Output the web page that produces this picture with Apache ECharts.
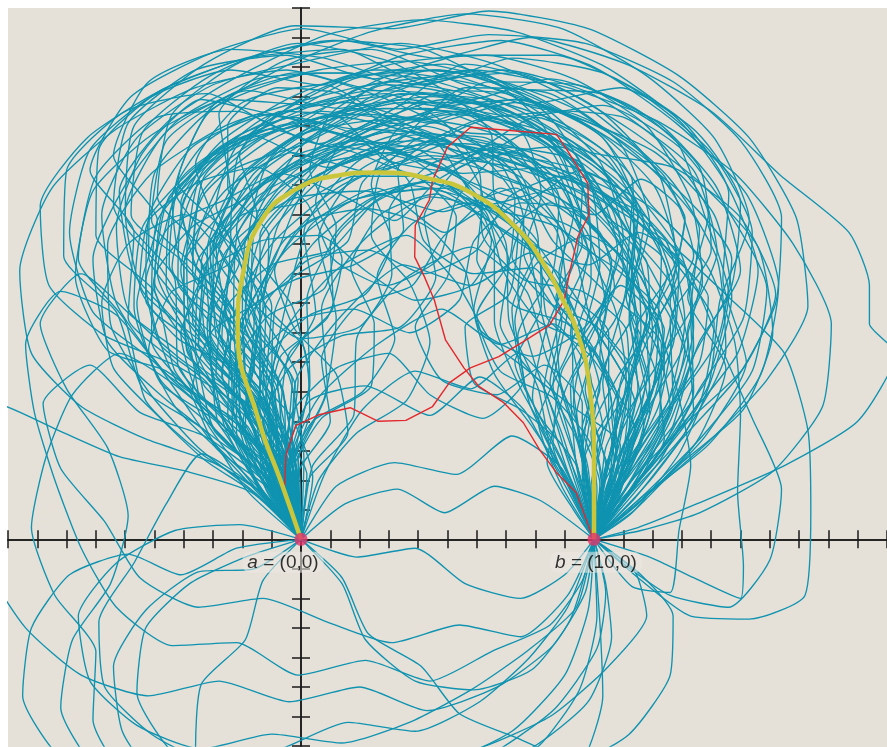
<!DOCTYPE html>
<html>
<head>
<meta charset="utf-8">
<script src="https://cdn.jsdelivr.net/npm/echarts@6/dist/echarts.min.js"></script>
<style>
  html, body { margin: 0; padding: 0; background: #fff; }
  #chart {
    width: 887px; height: 747px;
    background: linear-gradient(#e5e0d8, #e5e0d8) no-repeat 8px 8px / 879px 739px, #fff;
  }
</style>
</head>
<body>
<div id="chart"></div>
<script>
const upperPaths = [
  [0,0, -0.7,2.2, -1.5,4.6, -2.8,7, -3.2,9.8, -2.1,12.3, 0.4,14, 3.5,14.8, 6.8,14.2, 9.6,12.6, 11.4,10, 12,7, 11.5,4, 10.6,1.8, 10,0],
  [0,0, -0.4,2.5, -1.2,5.2, -3.5,7.4, -5.2,9.6, -5,12.4, -3,14.6, 0.5,15.8, 4.2,15.6, 7.5,14.5, 10.8,12.4, 13,9.6, 13.4,6.5, 12.1,3.4, 10.5,1.2, 10,0],
  [0,0, -0.2,2.8, 0.3,5.4, 0.2,8.1, 1.4,10.5, 3.6,12, 6.1,11.4, 8.2,9.8, 9.5,7.3, 9.9,4.5, 9.6,2.2, 10,0],
  [0,0, -1.1,1.9, -2.6,3.8, -4.6,5.6, -6.3,8, -6.8,11, -5.6,13.6, -3,15.4, 0.2,16.2, 3.4,16.8, 6.6,16.1, 9.8,14.6, 12.6,12.2, 14.2,9.5, 14.5,6.4, 13.1,3.6, 11.2,1.5, 10,0],
  [0,0, -0.5,2.4, -0.6,5, -1.8,7.6, -1.1,10.3, 1.2,12.6, 4.3,13.6, 7.1,12.8, 9.9,11.9, 12.4,10.2, 13.1,7.4, 12.5,4.6, 11,2.2, 10,0],
  [0,0, -0.9,2.1, -2.2,4.5, -2.6,7.3, -4.5,9.3, -4.1,12.2, -1.7,13.7, 0.9,12.6, 3.3,13.5, 5.6,15.3, 8.5,15.1, 10.9,13.4, 11.9,10.7, 11.2,7.9, 11.5,5.1, 10.4,2.5, 10,0],
  [0,0, -0.3,2.6, -1,5.3, -0.5,8, 0.3,10.6, 2.6,11.9, 4.9,10.4, 6.8,11.9, 8.7,10.5, 9.1,7.8, 8.6,5.2, 9.4,2.6, 10,0],
  [0,0, -1.4,1.7, -3.2,3.5, -4.9,5.9, -7.1,7.7, -7.9,10.4, -7.2,13.2, -5.1,15, -2.4,15.9, 0.6,15.4, 3.5,16.4, 6.8,16.9, 10,16, 12.8,14.1, 15.2,11.7, 16.3,8.6, 15.7,5.6, 13.9,3.2, 11.6,1.4, 10,0],
  [0,0, -0.6,2.3, -1.8,4.6, -1.6,7.4, -3,9.8, -1.9,12.4, 0.6,13.9, 3.6,13.1, 6.3,14.2, 9,13.4, 11.3,11.5, 11.1,8.6, 12.3,6, 11.6,3.3, 10.5,1.4, 10,0],
  [0,0, 0.1,2.7, -0.4,5.5, -1.7,8.1, -1.5,11, 0.2,13.5, 2.8,15.2, 5.8,15.9, 8.4,14.4, 9.9,12, 10.2,9.3, 9.6,6.6, 10.3,3.8, 9.9,1.8, 10,0],
  [0,0, -1.2,2, -2.2,4.4, -3.9,6.4, -4,9.3, -2.6,11.8, -0.3,13.1, 2.5,12.4, 5,13.4, 7.8,12.8, 10.4,11.7, 12.5,9.7, 14.1,7.3, 13.6,4.6, 12,2.5, 10.6,1, 10,0],
  [0,0, -0.5,2.6, -1.4,5.1, -3.4,6.7, -5.4,8.4, -6,11.1, -4.6,13.8, -1.8,15.2, 1.3,14.6, 4.2,15.5, 7.3,15.8, 10.1,14.6, 12.2,12.4, 12.8,9.5, 11.4,7, 11.9,4.3, 10.9,2, 10,0],
  [0,0, -0.8,2.3, -0.9,5.1, -2.3,7.4, -2.2,10.2, -0.6,12.5, 2,13.9, 4.9,14.9, 7.9,14.2, 10.3,12.5, 11.6,9.9, 10.7,7.4, 9.2,5.2, 9.4,2.5, 10,0],
  [0,0, -1.6,1.8, -3.3,4.1, -3.9,6.9, -5.7,9, -6.2,11.8, -4.6,14.1, -2.3,15.6, 0.9,17.1, 4.1,17.6, 7.3,17.2, 10.4,16, 12.9,14.2, 14.6,11.9, 15.6,9.1, 14.9,6.3, 13.1,4, 11.4,1.9, 10,0],
  [0,0, -0.3,2.4, 0.8,4.8, 1.2,7.5, 0.6,10.2, 2,12.5, 4.6,13.5, 7.2,12.5, 8.6,10.1, 10.6,8.1, 11.1,5.4, 10.5,2.7, 10,0],
  [0,0, -1,2.2, -2,4.6, -4.1,6.1, -5.9,7.8, -6.3,10.6, -5.4,13.1, -3.4,14.9, -0.8,14.4, 1.8,15.6, 4.9,16.1, 7.8,15.1, 10.5,13.6, 12.9,11.8, 14.7,9.5, 14.2,6.7, 12.6,4.4, 11.3,2.1, 10,0],
  [0,0, -0.4,2.5, -1.3,5, -1.2,7.8, -2.6,10.1, -3.6,12.7, -2,14.8, 0.8,15.4, 3.3,14.2, 5.7,14.9, 8.1,13.6, 10.2,11.8, 11.9,9.2, 13.1,6.5, 12.4,3.9, 11.2,1.6, 10,0],
  [0,0, -1.3,2.2, -2.8,4.4, -3.2,7.3, -2.4,10, -0.7,12.3, 1.9,13.9, 4.8,13.7, 7.6,13, 9.3,10.9, 10.5,8.4, 12.3,6.6, 12.2,3.8, 10.8,1.7, 10,0],
  [0,0, -0.6,2.5, -2.1,4.5, -4.3,5.9, -6.7,6.9, -8.6,8.6, -8.9,11.3, -7.3,13.6, -4.8,15.2, -1.9,16.3, 1.4,16.9, 4.6,16.3, 7.8,17, 11.1,16.1, 14,14.5, 16.4,12.3, 18.7,10.4, 19.4,8.6, 19.4,7.3, 20.3,6.3, 19,4, 16.5,2.5, 13.5,1.2, 11.5,0.4, 10,0],
  [0,0, -0.2,2.5, -0.7,5.2, -2.4,7.2, -2.9,10, -1.4,12.4, 1.1,14, 3.9,15.1, 6.9,14.6, 9.4,13, 10.6,10.5, 11.9,8.1, 11.3,5.4, 11.1,2.7, 10,0],
  [0,0, -0.9,1.9, -1.4,4.3, -3,6.2, -3.3,8.9, -5.1,10.8, -4.6,13.5, -2.3,15.1, 0.6,15.9, 3.5,16.2, 6.6,15.6, 9.3,14.6, 11.7,12.8, 13.6,10.5, 13.3,7.7, 13.4,5, 12,2.6, 10,0],
  [0,0, -0.4,2.6, 0.3,5.2, -0.3,7.9, -1.8,10.1, -1.1,12.8, 1.4,14.3, 4.3,13.6, 6.7,12.3, 8.9,11.5, 10.9,9.5, 11.5,6.8, 10.6,4.3, 10.9,1.7, 10,0],
  [0,0, -1.1,2.1, -2.5,4.2, -2.4,7, -3.9,9.3, -5.8,11, -5.4,13.8, -3.1,15.7, -0.1,16.8, 3,16.2, 5.8,14.9, 8.5,15.6, 11.4,14.6, 13.6,12.6, 14,9.8, 12.6,7.4, 12.7,4.6, 11.4,2.2, 10,0],
  [0,0, -0.7,2.4, -2.3,4.3, -2.1,7.1, -0.9,9.5, 0.2,12, 2.7,13.3, 5.3,12.3, 7.5,10.8, 8.1,8.1, 8.8,5.5, 9.6,2.8, 10,0],
  [0,0, -1.4,1.6, -3.4,2.9, -5.3,4.7, -6,7.4, -7.6,9.5, -7,12.3, -4.9,14.3, -2.2,14.5, 0.6,13.4, 3.2,14.6, 5.6,16.1, 8.6,15.4, 11.2,13.9, 13.6,12.1, 15.6,9.9, 16.1,7, 15.1,4.4, 13,2.6, 11.4,1, 10,0],
  [0,0, -0.1,2.7, -1.2,5.1, -1.4,7.9, -0.2,10.4, 1.9,12.2, 4.6,12.9, 7.4,12.1, 9.7,10.5, 10.4,7.8, 9.7,5.1, 10.4,2.5, 10,0],
  [0,0, -0.8,2.4, -1.9,4.9, -3.7,6.8, -3.9,9.6, -3.4,12.4, -1.2,14.3, 1.6,14.8, 4.4,14.1, 7.3,14.8, 10.1,14, 12.4,12.3, 13.4,9.6, 12.1,7.2, 12.6,4.5, 11.6,2.1, 10,0],
  [0,0, -0.5,2.3, -1.9,4.4, -1.5,7.2, -2.7,9.7, -4.3,11.8, -3.2,14.4, -0.6,16, 2.4,17.2, 5.6,17.8, 8.9,17.3, 11.8,15.7, 14.1,13.6, 15.3,10.8, 14.3,8.1, 13.9,5.2, 12.3,2.9, 10.8,1.1, 10,0],
  [0,0, -1,2.3, -1.6,4.8, -3.1,6.9, -2.6,9.7, -0.4,11.5, 2.2,11.8, 4.8,11.1, 7.3,11.9, 9.2,10.1, 9.9,7.4, 11.2,5, 10.9,2.3, 10,0],
  [0,0, -1.5,1.9, -2.9,4, -4.8,5.3, -5.6,8, -4.9,10.8, -6.4,13, -5.2,15.5, -2.4,16.6, 0.8,16.3, 3.9,15.4, 6.9,15.9, 9.9,15.1, 12.3,13.4, 13.9,11, 13.2,8.2, 14.5,5.8, 13.5,3.3, 11.5,1.2, 10,0],
  [0,0, -1.2,1.5, -3,2.6, -5.3,3.4, -7.5,4.5, -9.2,6.3, -9.6,9.1, -8.5,11.9, -6.3,13.9, -3.6,15.3, -0.5,15.9, 2.7,15.2, 5.9,15.9, 9.1,15.3, 12.1,14.2, 14.8,12.4, 16.8,10, 18.1,7.3, 17.8,4.5, 16.1,2.3, 13.6,0.9, 11.6,0.3, 10,0],
  [0,0, -0.6,2.4, -1.4,4.9, -2.9,7.1, -4.4,9.2, -3.6,11.9, -1.4,13.6, 1.3,14.8, 4.2,15.1, 7.1,14.1, 9.9,13.1, 12.7,12.6, 15,10.9, 16.2,8.3, 15.1,5.8, 13.1,3.9, 11.3,2, 10,0],
  [0,0, -0.3,2.6, -1.5,4.9, -2.9,6.9, -3,9.7, -1.3,12, 1.4,13.2, 4.1,12.3, 6.7,13.3, 9.5,12.8, 11.4,10.7, 11,8, 10.3,5.3, 10.7,2.6, 10,0],
  [0,0, -1.2,2.1, -3,3.8, -3.7,6.6, -4.9,9, -4.2,11.8, -2.1,13.7, 0.7,14.5, 3.7,14.2, 6.4,15.5, 9.4,15.4, 12.2,14.1, 14.2,11.9, 15,9.1, 13.6,6.7, 12.6,4, 11.3,1.8, 10,0],
  [0,0, -0.4,2.7, -0.1,5.4, -1.3,7.8, -0.8,10.6, 0.8,12.9, 3.5,14.3, 6.4,13.8, 8.7,12.2, 9.8,9.7, 9.2,7, 9.8,4.3, 10.3,1.8, 10,0],
  [0,0, -0.9,2, -2.6,3.8, -4.3,5.7, -5,8.4, -7,10.3, -6.9,13.2, -4.8,15.2, -1.8,16.3, 1.4,16.6, 4.3,15.4, 7.2,16.3, 10.3,15.8, 13,14.2, 14.6,11.7, 14.4,8.8, 15.2,6, 13.8,3.5, 11.8,1.5, 10,0],
  [0,0, -0.7,2.5, -1,5.2, -2.6,7.3, -2.4,10.1, -4.2,12.1, -3,14.7, -0.2,15.8, 2.7,15, 5.5,13.8, 8.4,13.6, 10.8,12, 12.3,9.6, 12.1,6.8, 11.3,4.2, 10.8,1.7, 10,0],
  [0,0, -1.1,2, -1.9,4.5, -3.5,6.6, -3.2,9.4, -1.5,11.6, 1,12.9, 3.8,13.8, 6.7,12.9, 9.3,12.1, 11.8,10.9, 12.8,8.2, 12.1,5.5, 11.4,2.8, 10,0],
  [0,0, -0.6,2.3, -2.5,4, -4.2,5.9, -4.3,8.8, -6,11, -5.7,14, -3.3,16.1, -0.2,17.4, 3.1,17.3, 6.4,17.9, 9.8,17.3, 12.9,15.7, 15.3,13.6, 16.9,10.9, 17.3,7.9, 15.9,5.4, 13.9,3.3, 11.7,1.4, 10,0],
  [0,0, -0.2,2.6, -1.4,4.9, -1.4,7.8, -2.2,10.5, -0.9,13.1, 1.8,14.6, 4.5,13.6, 6.1,11.4, 8.7,10.6, 10.6,8.9, 10.2,6.2, 11.4,3.7, 10.8,1.5, 10,0],
  [0,0, -1,2.1, -1.7,4.6, -3.4,6.5, -5.3,8.1, -5.2,10.9, -3.7,13.3, -1,14.4, 1.9,13.6, 4.6,14.6, 7.5,14.9, 10.2,13.7, 11.9,11.4, 13.7,9.2, 13,6.4, 11.6,4, 10.9,1.6, 10,0],
  [0,0, -0.3,2.6, -0.8,5.3, 0.5,7.7, 0.1,10.4, 1.8,12.7, 4.4,14.1, 7.3,14.9, 10,13.9, 12.1,11.9, 12.9,9.2, 11.8,6.7, 10.8,4.2, 10.5,1.8, 10,0],
  [0,0, -1.3,2, -2.1,4.5, -2.1,7.3, -3.7,9.5, -3.3,12.3, -1.1,14.2, 1.6,15.6, 4.7,15.9, 7.6,15.1, 10.3,13.6, 11.5,11, 11.1,8.2, 12.1,5.6, 11.2,3, 10,0],
  [0,0, -0.7,2.2, -2.3,4.1, -4.2,5.3, -5.1,7.9, -4.9,10.8, -2.9,12.9, -0.1,14, 2.7,13.3, 5.5,12.4, 8.4,12.6, 11,11.6, 12.9,9.4, 12.7,6.6, 11.5,4.1, 10.8,1.7, 10,0],
  [0,0, -0.5,2.5, -1.6,4.9, -3.3,6.9, -4.8,9.2, -6.4,11.3, -5.9,14.1, -3.6,15.9, -0.5,16.4, 2.5,15.6, 5.5,16.4, 8.7,16.4, 11.6,15.1, 14,13.1, 15.4,10.4, 15.1,7.5, 13.6,5.1, 12.2,2.6, 10,0],
  [0,0, -0.1,2.7, 0.9,5.1, 0.7,7.8, 2.1,10.1, 4.4,11.6, 7,10.9, 8.6,8.7, 10.5,7, 10.5,4.3, 10,2, 10,0],
  [0,0, -1.5,1.8, -2.3,4.3, -3.9,6.5, -4,9.3, -2.4,11.7, -2.8,14.4, -0.6,16.2, 2.4,16.6, 5.3,15.5, 8.1,14.6, 11,14.3, 13.4,12.5, 14.2,9.7, 13.2,7.1, 13.4,4.3, 12,2.1, 10,0],
  [0,0, -0.9,2.4, -1,5.1, -2.2,7.6, -3.6,9.9, -2.5,12.4, 0.1,13.4, 2.8,14.6, 5.9,14.4, 8.5,13.2, 9.7,10.8, 11.6,8.9, 12.4,6.2, 11.3,3.7, 10.2,1.6, 10,0],
  [0,0, -1.8,1.6, -3.3,3.7, -5.4,5.1, -6.3,7.7, -8.1,9.6, -8,12.5, -6,14.5, -3.2,15.1, -0.6,13.9, 2,15.3, 5.1,15.7, 8.1,14.8, 10.9,15.3, 13.5,13.8, 15,11.4, 14.7,8.6, 13.4,6.2, 12.6,3.6, 11.1,1.4, 10,0],
  [0,0, -0.4,2.5, -0.2,5.2, -1.6,7.5, -0.6,10.1, 1.8,11.5, 4.5,11.9, 6.8,10.5, 8.8,9, 10.2,6.9, 11.4,4.6, 10.7,2.2, 10,0],
  [0,0, -0.8,2.3, -2.8,3.9, -3.2,6.7, -5,8.7, -4.5,11.6, -2.2,13.4, 0.6,14.1, 3.4,13.2, 6,14.2, 8.9,14.5, 11.5,13.2, 13.1,10.8, 12.6,8, 13.4,5.4, 12.2,2.9, 10.7,1, 10,0],
  [0,0, -0.6,2.5, -1.2,5.1, -1,7.9, -2.4,10.3, -2.1,13.1, 0.1,15, 3.1,16.1, 6.3,16.4, 9.3,15.6, 11.8,14, 13.3,11.5, 13.7,8.7, 12.4,6.3, 11,4, 10.5,1.7, 10,0],
  [0,0, -1,2, -2.9,3.4, -4.8,4.9, -6.6,6.7, -7.1,9.5, -6,12, -4.2,14.2, -1.5,15.6, 1.6,15.8, 4.6,14.8, 7.5,14.3, 10.3,14.7, 12.9,13.3, 14.6,11.1, 15.9,8.5, 15.4,5.7, 13.7,3.5, 11.8,1.6, 10,0],
  [0,0, -0.2,2.7, -1.5,5, -3.1,7, -2.8,9.8, -1.3,12.1, 1.2,13.3, 3.9,12.8, 6.2,11.3, 8.8,11.9, 10.8,10.1, 11.8,7.5, 11.1,4.8, 10.6,2.3, 10,0],
  [0,0, -1.2,2.1, -1.7,4.7, -3.5,6.6, -3.2,9.5, -4.9,11.6, -4.4,14.4, -2,16.2, 1.1,16.9, 4.2,16.6, 7.1,15.3, 10.2,15.1, 12.8,13.5, 13.8,10.9, 14.6,8.3, 13.9,5.5, 12.2,3.2, 10.7,1.2, 10,0],
  [0,0, -0.5,2.6, -0.3,5.4, -1.9,7.6, -1.6,10.4, 0.3,12.5, 2.9,13.8, 5.7,13.1, 8,14.3, 10.4,13.1, 11.7,10.7, 11.2,7.9, 11.9,5.2, 11.1,2.6, 10,0],
  [0,0, -1.4,1.8, -2.6,4, -4.6,5.7, -6.6,6.4, -7.7,8.9, -7.1,11.8, -5.1,13.7, -2.5,14.9, 0.5,14.7, 3.4,15.8, 6.5,15.3, 9.4,14.3, 12.1,13.1, 14.1,11, 14.7,8.2, 14,5.4, 12.9,2.9, 11.3,0.9, 10,0],
  [0,0, -0.7,2.4, -1.8,4.7, -1.4,7.5, -2.8,9.9, -1.6,12.4, 0.8,13.9, 3.4,15.1, 6.4,14.9, 9.1,14, 11.3,12.2, 11.4,9.5, 12.7,7.2, 12.2,4.5, 10.9,2, 10,0],
  [0,0, -0.3,2.6, -1.2,5, -2.5,7.1, -4.2,8.7, -4,11.5, -2,13.6, 0.8,14.3, 3.6,14.9, 6.5,14.3, 9.2,13.5, 11.1,11.6, 12.5,9, 11.5,6.5, 10.8,3.9, 10.3,1.7, 10,0],
  [0,0, -1.1,2, -2.9,3.6, -4.2,5.9, -5.9,7.5, -5.7,10.4, -7.2,12.5, -5.8,15, -3,16.5, 0.1,17.3, 3.3,16.6, 6.4,17.1, 9.7,16.8, 12.7,15.5, 15,13.5, 16.4,10.9, 16.2,8, 14.9,5.5, 13,3.4, 11.4,1.4, 10,0]
];

const wanderPaths = [
  [0,0, -0.5,2.1, 0.4,4, 2.1,5, 3.2,6.8, 2.6,8.9, 3.8,10.7, 5.7,11.4, 7.4,10.3, 7.1,8.3, 5.6,7.2, 5.9,5.3, 7.5,4.4, 8.9,3.2, 9.6,1.6, 10,0],
  [0,0, -1,1.8, -1.3,3.9, -0.4,5.8, 1.4,6.9, 3.4,7.2, 4.6,8.9, 4.2,10.9, 5.4,12.6, 7.4,13.1, 9,11.9, 9.6,10, 8.7,8.2, 9.9,6.6, 10.8,4.8, 10.5,2.6, 10,0],
  [0,0, -0.7,2, -2,3.6, -2.7,5.7, -1.9,7.7, -0.2,8.8, 1.8,9.3, 3.5,10.5, 3.3,12.5, 4.9,13.7, 6.8,13.3, 7.8,11.6, 7.2,9.6, 8.5,8, 10.1,7.2, 11.2,5.5, 10.9,3.4, 10.4,1.6, 10,0],
  [0,0, 0.3,2.1, 1.6,3.6, 1.2,5.6, -0.2,7.1, -0.9,9.1, 0.3,10.8, 2.3,11.2, 4.3,10.6, 5.6,9.1, 6.1,7.1, 7.9,6.2, 9.6,7.1, 10.9,8.6, 12.2,7.2, 12,5.1, 11,3.2, 10.5,1.5, 10,0],
  [0,0, -0.9,1.9, -1.8,3.8, -3.3,5.2, -4,7.2, -3.2,9.1, -1.4,10.1, 0.6,10.3, 2.2,9.1, 3.9,8.1, 5.8,8.6, 6.9,10.3, 8.5,11.4, 10.2,10.4, 10.7,8.5, 9.7,6.7, 9.3,4.6, 9.8,2.4, 10,0],
  [0,0, -0.2,2.2, -1.1,4.1, -0.7,6.2, 0.9,7.5, 1.4,9.5, 0.5,11.4, 1.3,13.3, 3.2,14.1, 5.2,13.4, 6.2,11.6, 6,9.5, 7.3,7.9, 9.1,7.3, 10.3,5.7, 9.6,3.8, 10.2,1.9, 10,0],
  [0,0, -1.3,1.6, -2.3,3.5, -2.4,5.7, -3.7,7.4, -3.5,9.5, -2,11, 0,11.4, 1.8,12.3, 3.8,12.3, 5.3,10.9, 5,8.9, 3.9,7.2, 4.8,5.4, 6.7,4.9, 8.3,5.9, 9.6,4.6, 9.6,2.5, 10,0],
  [0,0, -0.6,2.1, -0.3,4.3, 1.2,5.8, 3,6.3, 4.4,4.9, 6.2,4.1, 7.6,5.4, 7.3,7.4, 8,9.3, 9.8,10.3, 11.4,9.1, 11.6,7.1, 11.1,5, 10.1,3.2, 10.3,1.4, 10,0],
  [0,0, -1.1,1.8, -1,3.9, -2.2,5.6, -1.7,7.7, -0.1,9, 1.6,10.1, 2.1,12.1, 3.8,13.2, 5.9,12.9, 7.8,13.8, 9.5,12.7, 10.4,10.9, 11.8,9.4, 11.9,7.3, 10.8,5.5, 9.9,3.6, 10.1,1.7, 10,0],
  [0,0, -0.4,2.2, -1.5,4, -1.2,6.1, 0.3,7.6, 2.2,8.3, 3.1,10.1, 2.4,12, 3.3,13.9, 5.3,14.5, 7.1,13.5, 8.3,11.9, 10,11, 11.6,12.2, 13.1,10.9, 12.7,8.9, 11.8,7.1, 11.9,5, 11.1,3.1, 10.5,1.4, 10,0],
  [0,0, -1.4,1.5, -2.8,3, -4.3,4.5, -5.2,6.4, -4.4,8.4, -2.5,9.3, -1.5,11, -2.1,13, -0.7,14.5, 1.3,14.3, 2.8,12.9, 4.8,12.5, 6.6,13.4, 8.5,12.8, 9.3,11, 8.8,9, 9.6,7.1, 10.2,5.1, 9.5,3.2, 9.9,1.5, 10,0],
  [0,0, 0.2,2.2, -0.7,4.1, -0.4,6.3, 1.1,7.9, 1,10, 2.4,11.5, 4.3,12.1, 6.1,11.2, 7.1,9.4, 6.8,7.3, 7.9,5.6, 9.4,4.4, 10.9,3.2, 10.6,1.4, 10,0],
  [0,0, -0.8,2, -2.3,3.4, -3.2,5.3, -4.8,6.6, -5.3,8.7, -4.5,10.6, -2.6,11.5, -0.7,12.4, 1.3,11.7, 3.2,10.8, 4.7,12.2, 6.5,13, 8.4,12.2, 9.1,10.3, 10.7,9.2, 12.2,7.8, 12.4,5.7, 11.6,3.8, 10.8,1.9, 10,0],
  [0,0, -0.3,2.2, 0.7,4.1, 2.4,5.2, 2.5,7.3, 1.7,9.2, 2.7,11, 4.6,11.7, 6.4,10.8, 8.1,9.6, 8.4,7.5, 9.9,6.2, 10.9,4.4, 10.4,2.4, 10,0],
  [0,0, -1.2,1.7, -1.6,3.8, -3,5.4, -3.1,7.5, -2.1,9.4, -2.9,11.3, -2.2,13.3, -0.3,14.3, 1.8,13.9, 3.7,14.8, 5.8,14.8, 7.6,13.7, 8.2,11.7, 7.6,9.7, 8.6,7.9, 9.9,6.3, 9.4,4.2, 9.7,2.1, 10,0],
  [0,0, -0.5,2.1, -1.9,3.7, -1.7,5.9, -0.2,7.4, 1.8,7.8, 3.7,7, 5.4,8.1, 5.9,10.1, 7.5,11.4, 9.5,11.1, 10.6,9.4, 10.2,7.4, 11.4,5.7, 11.7,3.6, 10.9,1.7, 10,0],
  [0,0, -1,1.9, -2.6,3.3, -3.7,5.1, -3,7.1, -1.3,8.2, -1.1,10.3, -2.5,11.9, -2.5,14, -0.8,15.3, 1.3,15.1, 3.1,14, 5.1,14.4, 7.2,14.1, 8.9,13, 9.6,11, 11,9.4, 11.5,7.3, 10.9,5.3, 10.7,3.2, 10.2,1.5, 10,0],
  [0,0, 0.4,2.1, -0.3,4.1, -1.6,5.8, -1.2,8, 0.3,9.5, 2.3,9.8, 4.2,9, 6,9.8, 7.1,11.6, 8.9,12.3, 10.6,11.2, 11,9.2, 10.1,7.3, 10.5,5.2, 10.8,3.1, 10.3,1.4, 10,0],
  [0,0, -0.9,1.9, -1.2,4, -2.7,5.5, -2.4,7.6, -3.6,9.3, -4.1,11.4, -2.9,13.1, -1,13.9, 1,13.3, 2.9,14.2, 4.9,15.2, 7,15.1, 8.8,14, 10.5,12.8, 11.5,11, 11.3,8.9, 12.4,7.1, 12,5, 11.2,3.1, 10.6,1.3, 10,0],
  [0,0, -0.1,2.2, 1,4, 0.7,6.1, 1.9,7.9, 3.8,8.6, 4.9,10.3, 6.6,11.3, 8.1,10, 8.2,7.9, 7.3,6, 8.2,4.1, 9.4,2.5, 10,0],
  [0,0, -1.5,1.5, -3.3,2.7, -4.9,4.2, -6.4,5.8, -6.8,8, -5.9,10, -4,11, -2.3,9.9, -1.6,8, 0,6.8, 2,7.2, 3.1,9, 3,11.1, 4.4,12.7, 6.5,13.2, 8.4,12.3, 10.2,11.3, 11.3,9.5, 11.2,7.4, 11.8,5.4, 11.1,3.4, 10.5,1.5, 10,0],
  [0,0, -0.7,2, -0.9,4.2, -2.3,5.8, -4.2,6.8, -5.5,8.6, -5.2,10.8, -3.5,12.1, -1.5,12.6, 0.2,11.4, 1.1,9.5, 2.9,8.6, 4.7,9.5, 5.3,11.5, 6.7,13, 8.8,13.3, 10.5,12.2, 11.3,10.3, 12.6,8.7, 13.2,6.6, 12.5,4.6, 11.3,2.9, 10.4,1.2, 10,0],
  [0,0, -0.3,2.2, -1.4,4.1, -1.4,6.3, -2.9,7.9, -3.1,10, -1.8,11.7, 0.1,12.7, 2.1,13.4, 3.7,12.1, 4.2,10.1, 5.9,9, 7.9,9.2, 8.9,7.4, 8.5,5.3, 9.4,3.4, 9.8,1.6, 10,0],
  [0,0, -1.1,1.7, -2.2,3.6, -2.2,5.8, -1.1,7.6, 0.8,8.5, 1.2,10.6, 0.3,12.5, 1,14.4, 2.9,15.4, 5,15.1, 6.5,13.7, 6.6,11.6, 7.9,10, 9.8,9.3, 11.5,10.4, 13.1,9.3, 13.4,7.2, 12.9,5.1, 11.8,3.2, 10.7,1.4, 10,0],
  [0,0, -0.6,2.1, -1.9,3.7, -3.5,4.9, -4.1,7, -3.3,9, -4.1,11, -3.2,12.9, -1.4,13.9, 0.7,14.8, 2.9,15.1, 4.9,14.1, 6.1,12.4, 6.2,10.3, 7.6,8.8, 9.6,8.4, 11.1,7.1, 11.2,5, 10.4,3.1, 10.2,1.4, 10,0],
  [0,0, 0.6,2, 1.9,3.6, 3.6,4.7, 4.4,6.7, 3.7,8.7, 2.4,10.3, 2.7,12.4, 4.3,13.7, 6.3,13.6, 8,12.4, 9.7,11.4, 11.1,9.9, 11.4,7.8, 10.4,6, 10,4, 10.6,2, 10,0],
  [0,0, -1.2,1.8, -2.9,3.1, -3.8,5, -5.1,6.7, -5,8.9, -3.7,10.6, -1.8,11.6, -0.2,13, 1.9,13.5, 4,13.2, 5.8,12.1, 7.7,11.5, 9.5,12.5, 11.3,11.6, 12.5,9.8, 13.9,8.2, 13.6,6, 12.4,4.3, 11.3,2.6, 10.5,1.1, 10,0],
  [0,0, -0.4,2.2, 0.3,4.3, 0.1,6.5, -1.3,8.1, -1.4,10.3, 0,11.9, 1.8,13, 3.9,13.7, 6,13.1, 7.3,11.5, 7.1,9.4, 6,7.6, 6.8,5.7, 8.6,4.8, 9.9,3.2, 10,1.5, 10,0],
  [0,0, -1,1.9, -2,3.8, -1.6,6, -2.6,7.9, -4.1,9.4, -4.4,11.6, -3.3,13.4, -1.4,14.4, 0.7,14.1, 2.4,15.3, 4.5,15.9, 6.6,15.5, 8.2,14.1, 9.2,12.3, 10.6,10.8, 12.3,9.6, 12.8,7.5, 12.2,5.5, 12.4,3.4, 11.3,1.7, 10,0],
  [0,0, -0.2,2.2, -1.3,4.1, -2.9,5.6, -2.6,7.8, -1,9.3, 1,9.8, 2.5,11.4, 4.5,12.2, 6.3,11.1, 6.9,9.1, 8.1,7.4, 9.9,6.5, 10.6,4.6, 9.7,2.8, 10,0]
];

// loops that come back down into b from its upper left
const innerPaths = [
  [0,0, -0.8,2.1, -1.9,4.3, -2.7,6.8, -2.3,9.4, -0.8,11.7, 1.5,13.4, 4.2,14, 6.6,13, 7.6,10.8, 7.4,8.3, 8,5.9, 8.9,3.6, 9.5,1.7, 10,0],
  [0,0, -0.4,2.4, -1.6,4.6, -3.1,6.6, -4.1,9.1, -3.3,11.7, -1.1,13.5, 1.6,14.6, 4.5,15, 7.3,14.4, 9.4,12.6, 9.9,10, 8.9,7.6, 8.3,5.1, 9,2.6, 10,0],
  [0,0, -1.2,1.9, -2.9,3.7, -4.8,5.4, -5.7,7.9, -5.4,10.6, -3.5,12.7, -0.8,14, 2.1,14.4, 5,14, 7.2,12.5, 8.1,10.1, 7.2,7.8, 7.6,5.3, 8.7,3.1, 9.5,1.4, 10,0],
  [0,0, -0.6,2.5, -0.8,5.1, -2,7.5, -1.9,10.1, -0.3,12.4, 2.2,13.9, 5,14.5, 7.8,13.7, 10,12.2, 10.8,9.8, 10.1,7.3, 9,5, 8.4,2.6, 9.3,1, 10,0],
  [0,0, -1.4,1.7, -2.6,3.8, -3.2,6.4, -4.6,8.6, -4.4,11.3, -2.7,13.5, -0.3,15, 2.5,15.9, 5.5,15.8, 8.2,14.7, 10.2,12.8, 11,10.2, 10.2,7.8, 8.9,5.7, 8.6,3.2, 9.4,1.3, 10,0],
  [0,0, -0.3,2.5, -1,5, -0.9,7.7, 0.4,10, 2.5,11.6, 5,11.9, 6.6,9.9, 6.6,7.4, 7.5,5.1, 8.7,3, 9.5,1.3, 10,0],
  [0,0, -0.9,2.2, -2.3,4.2, -3.6,6.5, -3.4,9.1, -1.7,11.2, 0.6,12.7, 3.2,13.1, 5.6,12.1, 7,10, 7.1,7.4, 8.1,5.1, 8.6,2.7, 9.6,1.1, 10,0],
  [0,0, -1.6,1.6, -3.5,3.1, -5.2,5, -6.5,7.3, -6.6,10, -5.1,12.4, -2.6,14, 0.2,14.9, 3.1,15.5, 6,15, 8.5,13.7, 9.8,11.4, 9.9,8.8, 9.1,6.3, 8.1,4, 8.9,1.8, 10,0],
  [0,0, -0.5,2.4, -1.8,4.4, -2,7.1, -3.1,9.5, -2.2,12, 0,13.7, 2.7,14.2, 5.2,13.2, 7.6,12.2, 9,10.1, 8.7,7.6, 8.9,5, 9.7,2.6, 10,0],
  [0,0, -1.1,2, -1.9,4.4, -3.6,6.3, -5,8.5, -4.7,11.2, -2.9,13.2, -0.4,14.5, 2.4,15.2, 5.4,15, 8,13.9, 9.6,12, 9.4,9.6, 8.4,7.2, 7.9,4.8, 8.7,2.7, 9.4,1.2, 10,0],
  [0,0, -0.2,2.6, -0.7,5.2, -1.9,7.5, -1.4,10.2, 0.5,12.3, 3,13.1, 5.4,12.3, 6.5,10.1, 5.9,7.8, 6.6,5.6, 7.9,3.8, 9.1,2, 10,0],
  [0,0, -1.3,1.9, -2.1,4.2, -2.1,6.9, -3.7,9, -3.4,11.7, -1.3,13.6, 1.4,14.5, 4.3,14.6, 7,13.6, 8.8,11.6, 8.6,9.1, 7.4,6.9, 7.8,4.6, 8.8,2.5, 10,0]
];

const lowPaths = [
  [0,0, 0.8,2.2, 2.1,4.4, 3.9,5.7, 5.8,5.1, 7.4,6.3, 8.7,4.9, 9.4,2.6, 10,0],
  [0,0, -0.4,2.5, 0.6,4.8, 2.6,6.6, 4.8,7.8, 6.8,6.6, 8.6,7.3, 9.9,5.4, 9.6,2.8, 10,0],
  [0,0, 1.2,1.8, 3.2,2.6, 5.3,2.2, 7.2,3.5, 8.9,2.4, 10,0],
  [0,0, -0.3,2.6, -0.2,5.3, 1.4,7.6, 3.5,9.3, 5.8,8.6, 7.8,9.7, 9.2,7.8, 9.3,5, 9.7,2.4, 10,0],
  [0,0, -0.6,2.4, 0.3,4.7, 2.2,5.2, 4.4,4.2, 6.1,5.5, 7.6,4.4, 8.7,2.4, 10,0],
  [0,0, 0.4,2.5, 1.8,4.2, 1.9,6.8, 3.5,8.8, 5.8,9.9, 7.7,8.4, 8.4,6.1, 9.4,4, 9.8,2, 10,0],
  [0,0, -0.8,2.2, -1.2,4.8, -0.4,7.3, 1.3,9.2, 3.6,10.3, 5.3,8.7, 6.5,6.7, 8.2,5.3, 9,3, 10,0],
  [0,0, 1.5,1.2, 3.3,1.7, 4.9,0.9, 6.6,1.8, 8.2,1.3, 10,0]
];

const belowPaths = [
  [0,0, -1.9,-0.6, -3.8,-1.5, -5.3,-3, -5.6,-5.2, -4.4,-7.2, -2.3,-8.5, 0.5,-9, 3.4,-8.3, 6.1,-7.5, 8.6,-5.8, 10.1,-3.7, 10.4,-1.8, 10,0],
  [0,0, -2.1,0.5, -4.3,0.3, -6.3,-0.8, -7.6,-2.6, -7.2,-4.8, -5.6,-6.3, -3.4,-7.1, -1,-6.6, 1.4,-6.9, 3.7,-6.2, 5.8,-5.1, 7.7,-3.8, 9.4,-2.3, 10,0],
  [0,0, -1.3,-1.4, -1.9,-3.4, -3.4,-4.9, -3.6,-7.2, -2.8,-9, -0.5,-9.8, 2.3,-9.4, 5,-8.6, 7.6,-8.9, 9.6,-7.5, 10.3,-5.3, 10.2,-2.8, 10,0],
  [0,0, -2.2,-0.3, -4.1,-1.2, -5.9,-0.5, -7.9,-1.2, -9.2,-3, -9.5,-5.3, -8.3,-7.3, -6,-8.6, -3,-8.8, 0,-8.2, 3,-7.7, 6,-7.1, 8.5,-6, 10.4,-4.4, 11.8,-2.6, 11.4,-1.1, 10,0],
  [0,0, 1.9,-0.6, 3.9,-0.3, 5.6,-1.5, 7.5,-2, 9,-1.2, 10,0],
  [0,0, 1.4,-1.5, 2.2,-3.4, 3.9,-4.8, 5.9,-5.1, 7.9,-4.4, 9.2,-2.7, 10,0],
  [0,0, -1.6,-1, -3.5,-1.1, -5.3,-2.4, -6.4,-4.3, -6.1,-6.5, -5,-8, -2.5,-8.9, 0.3,-8.6, 2.8,-7.3, 5.2,-7.8, 7.8,-7.1, 9.8,-5.5, 10.6,-3.3, 10.4,-1.5, 10,0],
  [0,0, 1.4,-1.3, 2.3,-3.2, 4.1,-4.3, 5.4,-5.9, 7.3,-6.7, 9.4,-7.5, 11.2,-6.6, 12.6,-4.6, 12.7,-2.6, 11.6,-1.2, 10,0]
];

const leftPaths = [
  [0,0, -0.8,2.3, -2.5,4.2, -4.6,5.6, -6.3,7.6, -8.2,8.4, -9.4,6.6, -9.1,4.3, -8.4,2, -7.5,-0.3, -6.3,-2.3, -4.4,-3.6, -2.2,-3.5, -0.1,-4.6, 2.2,-4.1, 4.4,-4.8, 6.5,-3.8, 8.5,-2.9, 9.6,-1.4, 10,0],
  [0,0, -1.3,2, -3.3,3.5, -5.5,4.3, -7.2,5.9, -8.8,4.6, -8.2,2.4, -6.7,0.6, -5.5,-1.3, -3.5,-2.3, -1.3,-2, 0.9,-2.8, 3.1,-3.5, 5.4,-2.9, 7.5,-3.3, 9.1,-1.9, 10,0],
  [0,0, -0.5,2.5, -1.9,4.6, -3.8,6.1, -5.7,7.5, -7.5,9, -8.9,7.3, -8,5.1, -6.6,3.1, -5.9,0.8, -6.5,-1.5, -7.8,-3.4, -8.2,-5.7, -7.1,-7.6, -4.5,-8.8, -1.5,-8.5, 1.5,-7.4, 4.5,-7.6, 7.2,-6.5, 9,-4.6, 9.8,-2.4, 10,0],
  [0,0, -1.7,1.6, -3.9,2.3, -6.2,2.8, -8.3,3.7, -10.4,4.6, -11.5,2, -10.8,-0.8, -9.4,-3, -7.5,-4.6, -5.2,-5.3, -2.8,-4.8, -0.4,-5.5, 2,-5, 4.3,-5.8, 6.7,-5, 8.6,-3.6, 9.7,-1.8, 10,0],
  [0,0, -1.5,1.7, -3.4,2.9, -4.6,1.2, -5.7,-0.8, -6.9,-2.8, -6.7,-5, -5.1,-6.6, -3.1,-7.5, -0.7,-7.1, 1.6,-6.2, 3.9,-6.5, 6.1,-5.5, 7.8,-4, 9.1,-2.3, 10,0],
  [0,0, -0.9,2.2, -2.6,3.8, -4.4,5.3, -6.2,6.3, -7.8,4.9, -8.7,2.8, -9.2,0.4, -8.4,-1.9, -7,-3.8, -7.1,-6.1, -6,-8, -3.5,-9.1, -0.5,-9.2, 2.5,-8.4, 5.4,-8.1, 8,-7.1, 9.5,-5.1, 10.1,-2.6, 10,0]
];

const rightLoopPaths = [
  [0,0, -0.8,2.2, -2,4.5, -2.3,7.4, -1,10, 1.4,12, 4.3,13, 7.2,12.6, 10,11.6, 12.6,10, 14.6,8.2, 16.5,6.3, 17.3,3.7, 17.4,1, 17.2,-1.9, 15.3,-2.7, 13.3,-2.6, 11.5,-1.3, 10,0],
  [0,0, -0.4,2.5, -1.5,4.8, -3.2,6.6, -3.4,9.4, -1.7,11.8, 1,13.2, 3.9,13.5, 6.8,13.1, 9.6,12.5, 12,11.2, 13.9,9.2, 14.8,6.7, 15,4.2, 14.9,1.6, 15.1,-0.9, 15,-2, 13.4,-1.3, 11.9,-0.6, 10,0],
  [0,0, -1,2, -1.8,4.4, -2,7.2, -0.6,9.7, 1.6,11.4, 4.2,12.1, 6.9,11.4, 9.2,10.6, 11.1,9, 12.3,6.9, 12.9,4.8, 13.3,2.5, 12.9,0.3, 12.6,-1.8, 11.3,-1.6, 10,0],
  [0,0, -0.6,2.4, -1.3,4.9, -2.8,7, -2.2,9.8, -0.2,11.9, 2.6,13.2, 5.6,13.4, 8.5,12.7, 11.1,11.1, 13.2,9.1, 14.3,6.6, 15.4,4.1, 16.4,1.7, 16,-0.7, 14.6,-2.3, 12.6,-1.9, 11.1,-0.9, 10,0]
];

const smoothPath = [0,0, -0.7,2.0, -1.45,4.05, -2.16,7.1, -1.96,9.1, -1.35,10.8, -0.24,11.82, 1.28,12.33, 2.64,12.43, 4.32,12.23, 5.84,11.72, 7.36,10.54, 8.31,9.29, 8.94,8.11, 9.4,7.1, 9.83,5.3, 10,2.47, 10,0];

const redPath = [0,0, -0.57,1.69, -0.51,2.87, -0.18,3.85, 0.61,4.22, 1.68,4.46, 2.64,4.0, 3.58,4.03, 4.49,4.5, 5.06,5.3, 5.78,5.81, 6.75,6.19, 7.59,6.7, 8.48,7.26, 8.99,8.11, 9.16,9.02, 9.45,10.25, 9.82,10.98, 9.79,12.06, 9.16,13.07, 8.72,13.72, 5.79,13.96, 5.0,13.29, 4.49,12.16, 4.38,11.49, 3.9,10.64, 3.88,9.57, 4.21,8.9, 4.55,8.11, 4.93,6.76, 5.56,5.81, 6.07,5.18, 6.92,4.63, 7.59,3.95, 8.14,3.04, 8.72,2.26, 9.39,1.59, 9.96,0.07, 10,0];

const endPoints = [[0, 0], [10, 0]];
const endNames = ['a', 'b'];
const endCoords = ['(0,0)', '(10,0)'];

function pairs(flat) {
  const out = [];
  for (let i = 0; i < flat.length; i += 2) out.push([flat[i], flat[i + 1]]);
  return out;
}

const blue = '#0f93b0';
const series = [];
[upperPaths, wanderPaths, innerPaths, lowPaths, belowPaths, leftPaths, rightLoopPaths].forEach(group => {
  group.forEach(p => {
    series.push({
      type: 'line', data: pairs(p), showSymbol: false, smooth: 0.2,
      lineStyle: { color: blue, width: 1.35 }, silent: true, z: 2
    });
  });
});

series.push({
  type: 'line', data: pairs(redPath), showSymbol: false,
  lineStyle: { color: '#e3282c', width: 1.4 }, silent: true, z: 4
});
series.push({
  type: 'line', data: pairs(smoothPath), showSymbol: false, smooth: 0.5,
  lineStyle: { color: '#c9c63b', width: 4.5 }, silent: true, z: 5
});
series.push({
  type: 'scatter', data: endPoints, symbolSize: 13, z: 6,
  itemStyle: { color: '#e2336a' },
  label: {
    show: true, position: 'bottom', distance: 6,
    formatter: p => '{i|' + endNames[p.dataIndex] + '}{n| = ' + endCoords[p.dataIndex] + '}',
    backgroundColor: 'rgba(236,233,227,0.72)', padding: [1, 5], borderRadius: 8,
    rich: {
      i: { fontStyle: 'italic', fontSize: 19, fontFamily: 'Liberation Sans', color: '#000' },
      n: { fontSize: 19, fontFamily: 'Liberation Sans', color: '#000' }
    }
  },
  labelLayout: p => ({ dx: p.dataIndex === 0 ? -18 : 2 })
});

function axisPair(min, max, pos) {
  return [false, true].map(inside => ({
    type: 'value', min: min, max: max, interval: 1, position: pos,
    axisLine: { onZero: true, lineStyle: { color: '#1a1a1a', width: 1.5 } },
    axisTick: { show: true, inside: inside, length: 9, lineStyle: { color: '#1a1a1a', width: 1.5 } },
    axisLabel: { show: false },
    splitLine: { show: false }
  }));
}

const chart = echarts.init(document.getElementById('chart'));
chart.setOption({
  animation: false,
  grid: { left: 8, right: -5, top: 8, bottom: 1 },
  xAxis: axisPair(-10, 20, 'bottom'),
  yAxis: axisPair(-7, 18, 'left'),
  series: series
});
</script>
</body>
</html>
